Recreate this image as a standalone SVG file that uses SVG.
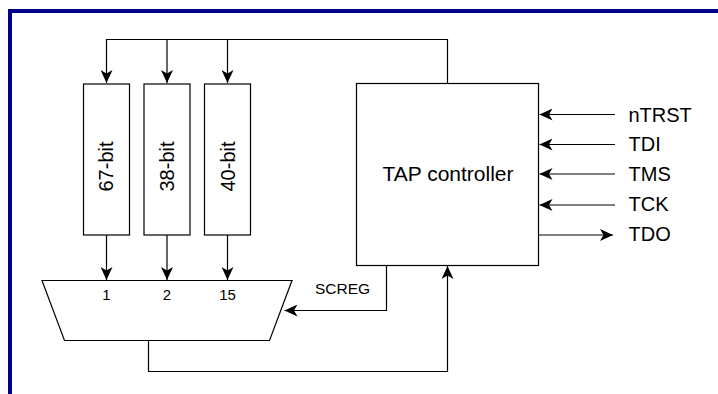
<svg xmlns="http://www.w3.org/2000/svg" width="718" height="394" viewBox="0 0 718 394">
<style>
  .box{fill:#fff;stroke:#000;stroke-width:1.2}
  .wire{fill:none;stroke:#000;stroke-width:1.2}
  .t{font-family:"Liberation Sans",Arial,sans-serif;fill:#000}
  .lg{font-size:20px}
  .sm{font-size:15px}
</style>
<defs>
  <marker id="ah" viewBox="0 0 13 12" refX="13" refY="6" markerWidth="13" markerHeight="12" markerUnits="userSpaceOnUse" orient="auto">
    <path d="M0,0 L13,6 L0,12 L3.5,6 Z" fill="#000"/>
  </marker>
</defs>
<rect x="0" y="0" width="718" height="394" fill="#fff"/>
<rect x="10" y="11" width="730" height="420" fill="none" stroke="#00008B" stroke-width="4"/>

<g id="connectors">
  <path class="wire" d="M447.5,83 V39.5 H106.5 V83" marker-end="url(#ah)"/>
  <path class="wire" d="M167,39.5 V83" marker-end="url(#ah)"/>
  <path class="wire" d="M227.5,39.5 V83" marker-end="url(#ah)"/>
  <path class="wire" d="M106.5,235 V280" marker-end="url(#ah)"/>
  <path class="wire" d="M167,235 V280" marker-end="url(#ah)"/>
  <path class="wire" d="M227.5,235 V280" marker-end="url(#ah)"/>
  <path class="wire" d="M386.5,265.5 V310.5 H284.5" marker-end="url(#ah)"/>
  <path class="wire" d="M148.5,340.5 V371.5 H447.5 V266" marker-end="url(#ah)"/>
  <path class="wire" d="M615,114.5 H539.5" marker-end="url(#ah)"/>
  <path class="wire" d="M615,144.5 H539.5" marker-end="url(#ah)"/>
  <path class="wire" d="M615,174 H539.5" marker-end="url(#ah)"/>
  <path class="wire" d="M615,205 H539.5" marker-end="url(#ah)"/>
  <path class="wire" d="M538.5,235 H613" marker-end="url(#ah)"/>
</g>

<g id="reg67">
  <rect class="box" x="83.5" y="84" width="46" height="151"/>
  <text class="t lg" transform="translate(113.3,166.5) rotate(-90)" text-anchor="middle">67-bit</text>
</g>
<g id="reg38">
  <rect class="box" x="144" y="84" width="46" height="151"/>
  <text class="t lg" transform="translate(174,166.5) rotate(-90)" text-anchor="middle">38-bit</text>
</g>
<g id="reg40">
  <rect class="box" x="204.5" y="84" width="46" height="151"/>
  <text class="t lg" transform="translate(234.8,166.5) rotate(-90)" text-anchor="middle">40-bit</text>
</g>

<g id="tap">
  <rect class="box" x="356.5" y="83.5" width="182" height="182"/>
  <text class="t" font-size="21" x="448" y="180.5" text-anchor="middle">TAP controller</text>
</g>

<g id="mux">
  <path class="box" d="M42,280.5 H292 L269.5,340.5 H64.5 Z"/>
  <text class="t sm" x="106.5" y="299.5" text-anchor="middle">1</text>
  <text class="t sm" x="167" y="299.5" text-anchor="middle">2</text>
  <text class="t sm" x="227.5" y="299.5" text-anchor="middle">15</text>
</g>

<g id="labels">
  <text class="t" font-size="15.5" x="342.5" y="294" text-anchor="middle">SCREG</text>
  <text class="t lg" x="628.5" y="121.5">nTRST</text>
  <text class="t lg" x="628.5" y="151">TDI</text>
  <text class="t lg" x="628.5" y="180.5">TMS</text>
  <text class="t lg" x="628.5" y="211">TCK</text>
  <text class="t lg" x="628.5" y="240.5">TDO</text>
</g>
</svg>
